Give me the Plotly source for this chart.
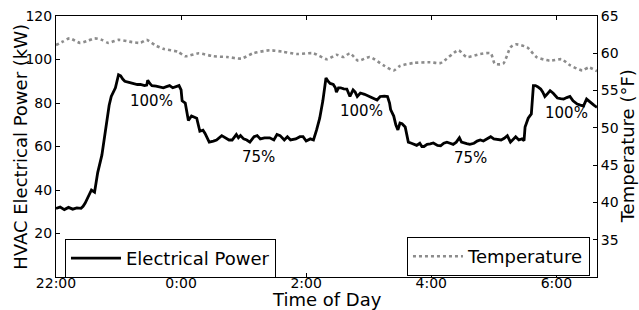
import plotly.graph_objects as go
from datetime import datetime, timedelta

# ---- data ----
start_time = "2020-01-01 22:00"
# minutes after 22:00 and electrical power (kW)
power_minutes = [0, 4, 8, 12, 16, 20, 24, 26, 28, 30, 32, 34, 37, 40, 44, 47, 49, 51, 53, 57, 60, 62, 64, 66, 70,
                 74, 78, 81, 85, 87, 88, 90, 92, 96, 100, 103, 106, 109, 112, 115, 118, 120, 121, 124, 127, 130,
                 133, 135, 138, 141, 143, 147, 151, 154, 159, 163, 166, 169, 173, 175, 177, 180, 183, 186, 190,
                 193, 196, 200, 205, 209, 212, 215, 219, 222, 225, 230, 234, 237, 240, 244, 247, 250, 253, 256,
                 259, 261, 263, 266, 268, 269, 271, 273, 276, 279, 282, 285, 287, 289, 292, 296, 301, 305, 308,
                 311, 315, 318, 320, 321, 324, 326, 328, 330, 332, 335, 336, 338, 341, 343, 346, 349, 351, 353,
                 356, 359, 362, 366, 369, 372, 375, 378, 381, 384, 387, 389, 391, 394, 397, 401, 404, 407, 410,
                 414, 417, 420, 423, 427, 430, 433, 436, 438, 441, 444, 447, 449, 450, 453, 456, 458, 460, 462,
                 465, 467, 469, 471, 474, 477, 479, 481, 484, 487, 490, 493, 496, 500, 503, 506, 509, 512, 516, 519]
power_kw = [31.5, 32.2, 31.0, 32.0, 31.2, 31.8, 31.6, 32.5, 34, 36, 38, 40, 39, 48, 56, 66, 74, 79, 83, 87, 93,
            92.5, 91, 90, 89.5, 89, 88.5, 88.6, 88, 88.2, 90.5, 89, 88, 87.8, 87.2, 87, 87.5, 88, 87, 87.5, 88,
            86, 81, 80, 72, 74, 73.5, 73, 67, 67.5, 66, 62, 62.5, 63, 65, 64, 63, 63, 65.5, 64, 65, 63.5, 63, 62,
            64.5, 65, 63.5, 64, 64, 63, 65.5, 65, 63, 64.5, 63, 63.5, 64.5, 64.5, 62.5, 63.5, 63, 67.6, 73, 81,
            91.5, 90, 89, 88.5, 87, 85, 87, 87, 86.5, 86.4, 83, 86, 85, 83, 84.6, 84, 83, 82, 81.4, 83, 83.2, 83,
            80, 77, 74, 70, 67.6, 70.8, 70.5, 69, 66, 62, 61.5, 61, 60.5, 61.5, 60, 60, 61, 61.2, 61.6, 60.5,
            60.3, 61.5, 62, 61.5, 61, 62, 64, 62, 61.6, 61.3, 61, 61.5, 62.5, 63, 62.5, 63.5, 64.5, 63.5, 63.4,
            63, 63.8, 65, 62, 63, 64.5, 63, 63.5, 62.7, 69, 73, 75, 88, 88, 87.5, 86.4, 85, 83, 84, 85.7, 84.5,
            83.5, 82.3, 82, 81.8, 82.5, 83, 81, 79.5, 79, 78.6, 81.8, 80.5, 79, 78]

# minutes after 22:00 and outside temperature (°F)
temp_minutes = [0, 7, 13, 23, 31, 37, 44, 50, 60, 73, 81, 87, 95, 103, 117, 124, 137, 151, 164, 178, 189, 205,
                218, 231, 247, 260, 269, 276, 282, 290, 301, 314, 324, 330, 343, 359, 369, 386, 394, 407, 417,
                421, 429, 436, 441, 452, 461, 474, 485, 493, 505, 511, 519]
temp_f = [61.1, 61.6, 62.0, 61.4, 61.7, 62.0, 61.8, 61.4, 61.8, 61.5, 61.4, 61.8, 61.1, 60.6, 60.2, 59.6, 60.0,
          59.6, 59.5, 59.3, 60.0, 60.4, 60.2, 59.9, 60.0, 59.2, 59.8, 59.5, 60.0, 59.0, 59.5, 58.4, 57.7, 58.3,
          58.7, 58.8, 58.7, 60.4, 59.5, 59.9, 60.0, 58.6, 58.6, 60.8, 61.2, 60.8, 59.5, 59.0, 59.2, 58.4, 57.7,
          58.1, 57.6]

x_tick_minutes = [0, 120, 240, 360, 480]
x_tick_labels = ["22:00", "0:00", "2:00", "4:00", "6:00"]
power_ticks = [20, 40, 60, 80, 100, 120]
temp_ticks = [35, 40, 45, 50, 55, 60, 65]

label_texts = ["100%", "75%", "100%", "75%", "100%"]
label_minutes = [92, 194, 293, 398, 490]
label_kw = [81, 55.2, 76.3, 54.7, 75.4]

x_title = "Time of Day"
y_title = "HVAC Electrical Power (kW)"
y2_title = "Temperature (°F)"

# ---- build ----
base = datetime.strptime(start_time, "%Y-%m-%d %H:%M")
to_t = lambda ms: [base + timedelta(minutes=m) for m in ms]

font = "DejaVu Sans"
fig = go.Figure()
fig.add_trace(go.Scatter(x=to_t(temp_minutes), y=temp_f, yaxis="y2", mode="lines",
                         line=dict(color="#8c8c8c", width=2.6, dash="dot", shape="spline", smoothing=0.6),
                         name="Temperature", legend="legend2", showlegend=True))
fig.add_trace(go.Scatter(x=to_t(power_minutes), y=power_kw, mode="lines",
                         line=dict(color="black", width=2.8),
                         name="Electrical Power", legend="legend", showlegend=True))

for t, m, v in zip(label_texts, label_minutes, label_kw):
    fig.add_annotation(x=base + timedelta(minutes=m), y=v, text=t, showarrow=False,
                       font=dict(size=15, color="black", family=font))

# axis titles as paper annotations (plot area is 56..597 x 16..277 px)
fig.add_annotation(xref="paper", yref="paper", x=0.5, y=-0.088, text=x_title, showarrow=False,
                   xanchor="center", yanchor="middle", font=dict(size=18, family=font, color="black"))
fig.add_annotation(xref="paper", yref="paper", x=-0.066, y=0.5, text=y_title, showarrow=False, textangle=-90,
                   xanchor="center", yanchor="middle", font=dict(size=18, family=font, color="black"))
fig.add_annotation(xref="paper", yref="paper", x=1.057, y=0.5, text=y2_title, showarrow=False, textangle=-90,
                   xanchor="center", yanchor="middle", font=dict(size=18, family=font, color="black"))

axis_common = dict(showline=True, linecolor="black", linewidth=1, ticks="inside", ticklen=4,
                   tickcolor="black", showgrid=False, zeroline=False, automargin=False,
                   tickfont=dict(size=14, color="black", family=font))

fig.update_layout(
    width=639, height=310,
    margin=dict(l=56, r=42, t=16, b=33, autoexpand=False),
    plot_bgcolor="white", paper_bgcolor="white",
    font=dict(family=font, color="black"),
    showlegend=True,
    xaxis=dict(**axis_common, mirror="ticks", type="date",
               range=[base, base + timedelta(minutes=519)],
               tickvals=to_t(x_tick_minutes), ticktext=x_tick_labels, ticklabelstandoff=-7),
    yaxis=dict(**axis_common, range=[0, 120], tickvals=power_ticks),
    yaxis2=dict(**axis_common, overlaying="y", side="right", range=[30, 65], tickvals=temp_ticks),
    legend=dict(x=0.0166, y=0.146, xanchor="left", yanchor="top", bordercolor="black", borderwidth=1,
                bgcolor="white", font=dict(size=18, family=font), itemwidth=50),
    legend2=dict(x=0.987, y=0.153, xanchor="right", yanchor="top", bordercolor="black", borderwidth=1,
                 bgcolor="white", font=dict(size=18, family=font), itemwidth=50),
)

fig.write_html("out.html", config={"displayModeBar": False},
               post_script="document.body.style.margin='0';")
